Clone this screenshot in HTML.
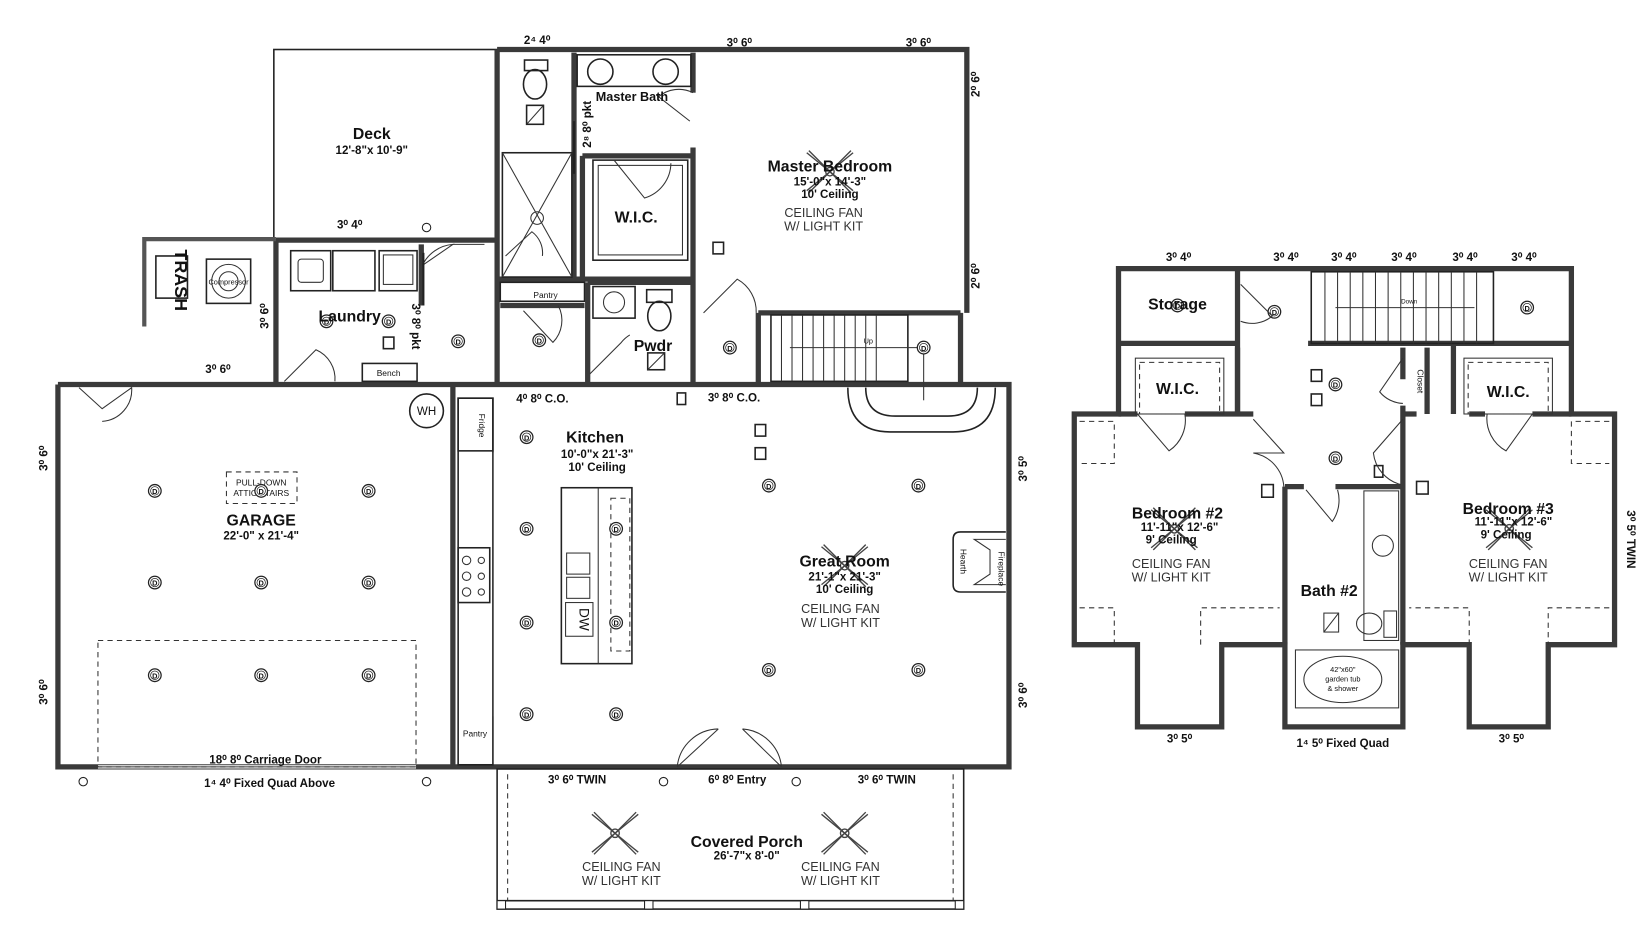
<!DOCTYPE html>
<html><head><meta charset="utf-8"><style>
html,body{margin:0;padding:0;background:#fff;}
svg{display:block}
text{font-family:"Liberation Sans",sans-serif;fill:#111}
.w{stroke:#3a3a3a;stroke-width:5;fill:none}
.t{stroke:#222;stroke-width:1.5;fill:none}
.h{stroke:#333;stroke-width:1;fill:none}
.d{stroke:#333;stroke-width:1;fill:none;stroke-dasharray:5 4}
.rn{font-weight:bold;font-size:15px;text-anchor:middle}
.dm{font-weight:bold;font-size:11px;text-anchor:middle}
.cf{font-size:12px;text-anchor:middle;fill:#333}
.lb{font-size:11px;text-anchor:middle}
.dl{font-size:8px;text-anchor:middle;font-weight:bold}
</style></head><body>
<svg width="1643" height="927" viewBox="0 0 1560 880" preserveAspectRatio="none" xmlns="http://www.w3.org/2000/svg">
<defs>
<g id="D"><circle r="6" fill="#fff" stroke="#222" stroke-width="1.2"/><circle r="4" fill="none" stroke="#222" stroke-width="0.7"/><text y="3" class="dl" style="font-size:7px">D</text></g>
<g id="fan"><g stroke="#444" stroke-width="1.3" fill="none"><line x1="-22" y1="-18" x2="22" y2="18"/><line x1="-22" y1="18" x2="22" y2="-18"/><line x1="-20" y1="-20" x2="20" y2="20"/><line x1="-20" y1="20" x2="20" y2="-20"/><circle r="4"/></g></g>
</defs>

<!-- ===== Main floor walls ===== -->
<!-- deck -->
<rect x="260" y="47" width="212" height="181" class="t" stroke-width="2"/>
<!-- top wall -->
<path class="w" d="M472 47 H918 V297"/>
<path class="w" d="M912 297 V365"/>
<!-- master bath left -->
<path class="w" d="M472 47 V365"/>
<!-- laundry -->
<path class="w" d="M262 228 H472"/>
<path class="w" d="M262 228 V365"/>
<path class="w" d="M400 232 V290"/>
<!-- garage -->
<path class="w" d="M55 365 H958 V728 H430"/>
<path class="w" d="M55 365 V728 H430 V365"/>
<line x1="93" y1="728" x2="395" y2="728" stroke="#fff" stroke-width="3"/>
<line x1="93" y1="728" x2="395" y2="728" class="h"/>
<rect x="93" y="608" width="302" height="120" class="d"/>
<!-- master bath interior -->
<path class="w" d="M545 50 V265"/>
<path class="w" d="M472 265 H658"/>
<path class="w" d="M658 50 V88"/>
<path class="w" d="M658 140 V365"/>
<path class="w" d="M553 148 H658"/>
<path class="w" d="M553 148 V265"/>
<rect x="548" y="52" width="108" height="30" class="t"/>
<rect x="477" y="145" width="66" height="118" class="t"/>
<line x1="477" y1="145" x2="543" y2="263" class="h"/><line x1="543" y1="145" x2="477" y2="263" class="h"/>
<circle cx="510" cy="207" r="6" class="h"/>
<rect x="563" y="152" width="90" height="95" class="t"/>
<rect x="568" y="157" width="80" height="85" class="h"/>
<ellipse cx="508" cy="80" rx="11" ry="14" class="t"/><rect x="498" y="57" width="22" height="10" class="t"/>
<rect x="500" y="100" width="16" height="18" class="t"/><line x1="500" y1="118" x2="516" y2="100" class="h"/>
<circle cx="570" cy="68" r="12" class="t"/><circle cx="632" cy="68" r="12" class="t"/>
<!-- pantry / pwdr -->
<rect x="475" y="268" width="80" height="18" class="t"/>
<path class="w" d="M475 290 H555 M558 268 V365 M558 268 H658"/>
<rect x="563" y="272" width="40" height="30" class="t"/><circle cx="583" cy="287" r="10" class="h"/>
<ellipse cx="626" cy="300" rx="11" ry="14" class="t"/><rect x="614" y="275" width="24" height="12" class="t"/>
<rect x="615" y="335" width="16" height="16" class="t"/><line x1="615" y1="351" x2="631" y2="335" class="h"/>
<path class="w" d="M720 297 H912 M720 297 V365"/>
<!-- stairs -->
<rect x="732" y="299" width="130" height="63" class="t"/>
<g class="h">
<line x1="742" y1="299" x2="742" y2="362"/><line x1="752" y1="299" x2="752" y2="362"/><line x1="762" y1="299" x2="762" y2="362"/><line x1="772" y1="299" x2="772" y2="362"/><line x1="782" y1="299" x2="782" y2="362"/><line x1="792" y1="299" x2="792" y2="362"/><line x1="802" y1="299" x2="802" y2="362"/><line x1="812" y1="299" x2="812" y2="362"/><line x1="822" y1="299" x2="822" y2="362"/><line x1="832" y1="299" x2="832" y2="362"/>
<line x1="750" y1="330" x2="877" y2="330"/><line x1="877" y1="330" x2="877" y2="380"/>
</g>
<text x="820" y="326" style="font-size:7px">Up</text>
<path d="M805 368 Q805 410 845 410 H905 Q945 410 945 368" class="t" stroke-width="3"/>
<path d="M822 368 Q822 395 850 395 H900 Q928 395 928 368" class="t"/>
<!-- doors -->
<g class="h">
<path d="M401 252 L430 232 A35 35 0 0 0 401 252"/>
<line x1="430" y1="232" x2="460" y2="232"/>
<path d="M270 362 L300 332 A30 30 0 0 1 318 362"/>
<path d="M75 368 L97 388 L125 368 A30 30 0 0 1 97 400"/>
<path d="M623 90 L655 115 M658 88 A30 30 0 0 0 625 92"/>
<path d="M668 297 L700 265 A35 35 0 0 1 718 297"/>
<path d="M560 355 L590 325 A30 30 0 0 1 598 318"/>
<path d="M497 295 L525 325 A30 30 0 0 0 530 290"/>
<path d="M643 728 L682 692 M742 728 L705 692 M682 692 A40 40 0 0 0 643 728 M705 692 A40 40 0 0 1 742 728"/>
<path d="M583 152 L612 188 A35 35 0 0 0 637 155"/>
<path d="M480 243 L505 220 A25 25 0 0 1 515 243"/>
</g>
<line x1="402" y1="240" x2="402" y2="290" stroke="#222" stroke-width="2"/>
<line x1="545" y1="115" x2="545" y2="165" stroke="#222" stroke-width="2"/>
<!-- laundry appliances -->
<rect x="276" y="238" width="38" height="38" class="t"/><rect x="283" y="246" width="24" height="22" class="h" rx="3"/>
<rect x="316" y="238" width="40" height="38" class="t"/>
<rect x="360" y="238" width="36" height="38" class="t"/><rect x="364" y="242" width="28" height="28" class="h"/>
<rect x="344" y="345" width="52" height="17" class="t"/>
<text x="369" y="357" class="lb" style="font-size:8px">Bench</text>
<!-- trash/compressor -->
<path d="M135 227 H262 M137 227 V310" stroke="#555" stroke-width="4" fill="none"/>
<rect x="148" y="243" width="30" height="40" class="t"/>
<rect x="196" y="246" width="42" height="42" class="t"/><circle cx="217" cy="267" r="16" class="h"/><circle cx="217" cy="267" r="9" class="h"/>
<text x="166" y="266" transform="rotate(90 166 266)" style="font-size:17px;font-weight:bold;text-anchor:middle">TRASH</text>
<text x="217" y="270" class="lb" style="font-size:7px">Compressor</text>
<!-- kitchen -->
<rect x="435" y="378" width="33" height="348" class="t"/>
<line x1="468" y1="430" x2="468" y2="680" class="h"/>
<rect x="435" y="378" width="33" height="50" class="t"/>
<text x="455" y="404" transform="rotate(90 455 404)" class="lb" style="font-size:8px">Fridge</text>
<rect x="435" y="520" width="30" height="52" class="t"/>
<g class="h"><circle cx="443" cy="532" r="4"/><circle cx="443" cy="547" r="4"/><circle cx="443" cy="562" r="4"/><circle cx="457" cy="532" r="3"/><circle cx="457" cy="547" r="3"/><circle cx="457" cy="562" r="3"/></g>
<text x="451" y="699" class="lb" style="font-size:8px">Pantry</text>
<rect x="533" y="463" width="67" height="167" class="t"/>
<line x1="568" y1="463" x2="568" y2="630" class="h"/>
<rect x="580" y="473" width="18" height="145" class="d"/>
<rect x="538" y="525" width="22" height="20" class="h"/><rect x="538" y="548" width="22" height="20" class="h"/>
<rect x="537" y="572" width="26" height="32" class="h"/>
<text x="550" y="588" transform="rotate(90 550 588)" style="font-size:13px;text-anchor:middle">DW</text>
<!-- fireplace -->
<path d="M955 505 H912 Q905 505 905 512 V555 Q905 562 912 562 H955" class="t"/>
<path d="M955 512 H925 L940 522 V545 L925 555 H955" class="h"/>
<text x="912" y="533" transform="rotate(90 912 533)" class="lb" style="font-size:8px">Hearth</text>
<text x="948" y="540" transform="rotate(90 948 540)" class="lb" style="font-size:8px">Fireplace</text>
<circle cx="405" cy="390" r="16" class="t"/><text x="405" y="394" class="lb" style="font-size:11px">WH</text>
<rect x="215" y="448" width="67" height="30" class="d"/>
<text x="248" y="461" class="lb" style="font-size:8px">PULL-DOWN</text><text x="248" y="471" class="lb" style="font-size:8px">ATTIC STAIRS</text>
<!-- porch -->
<rect x="472" y="730" width="443" height="133" class="t" stroke-width="2"/>
<line x1="482" y1="735" x2="482" y2="855" class="d"/><line x1="905" y1="735" x2="905" y2="855" class="d"/>
<line x1="472" y1="855" x2="915" y2="855" class="t"/>
<g fill="#fff" stroke="#222"><rect x="472" y="855" width="8" height="8"/><rect x="612" y="855" width="8" height="8"/><rect x="760" y="855" width="8" height="8"/><rect x="907" y="855" width="8" height="8"/></g>
<g fill="#fff" stroke="#222"><circle cx="79" cy="742" r="4"/><circle cx="405" cy="742" r="4"/><circle cx="630" cy="742" r="4"/><circle cx="756" cy="742" r="4"/><circle cx="405" cy="216" r="4"/></g>
<!-- fans -->
<use href="#fan" x="584" y="791"/><use href="#fan" x="802" y="791"/>
<use href="#fan" x="788" y="163"/><use href="#fan" x="802" y="537"/>
<use href="#fan" x="1115" y="502"/><use href="#fan" x="1433" y="502"/>
<!-- D lights -->
<g>
<use href="#D" x="147" y="466"/><use href="#D" x="248" y="466"/><use href="#D" x="350" y="466"/>
<use href="#D" x="147" y="553"/><use href="#D" x="248" y="553"/><use href="#D" x="350" y="553"/>
<use href="#D" x="147" y="641"/><use href="#D" x="248" y="641"/><use href="#D" x="350" y="641"/>
<use href="#D" x="500" y="415"/><use href="#D" x="500" y="502"/><use href="#D" x="585" y="502"/><use href="#D" x="500" y="591"/><use href="#D" x="585" y="591"/><use href="#D" x="500" y="678"/><use href="#D" x="585" y="678"/>
<use href="#D" x="730" y="461"/><use href="#D" x="872" y="461"/><use href="#D" x="730" y="636"/><use href="#D" x="872" y="636"/>
<use href="#D" x="435" y="324"/><use href="#D" x="693" y="330"/><use href="#D" x="877" y="330"/><use href="#D" x="310" y="305"/><use href="#D" x="369" y="305"/><use href="#D" x="512" y="323"/>
<use href="#D" x="1118" y="290"/><use href="#D" x="1210" y="296"/><use href="#D" x="1450" y="292"/><use href="#D" x="1268" y="365"/><use href="#D" x="1268" y="435"/>
</g>
<g class="t" fill="#fff"><rect x="677" y="230" width="10" height="11"/><rect x="364" y="320" width="10" height="11"/><rect x="717" y="403" width="10" height="11"/><rect x="717" y="425" width="10" height="11"/><rect x="643" y="373" width="8" height="11"/><rect x="1245" y="351" width="10" height="11"/><rect x="1245" y="374" width="10" height="11"/><rect x="1198" y="460" width="11" height="12"/><rect x="1345" y="457" width="11" height="12"/><rect x="1305" y="442" width="8" height="11"/></g>

<!-- ===== Upper floor ===== -->
<path class="w" d="M1062 255 H1492 V393 H1533 V612 H1470 V690 H1395 V612 H1332 V690 H1220 V612 H1160 V690 H1080 V612 H1020 V393 H1062 Z"/>
<path class="w" d="M1062 326 H1175 M1175 255 V393 M1242 326 H1492"/>
<path class="w" d="M1062 393 H1080 M1125 393 H1190 M1175 330 V393"/>
<path class="w" d="M1380 326 V393 M1332 393 H1345 M1395 393 H1410 M1455 393 H1492"/>
<path class="w" d="M1220 462 V612 M1332 393 V612"/>
<path class="w" d="M1220 462 H1238 M1268 462 H1332"/>
<path class="w" d="M1332 330 V360 M1332 385 V393 M1355 330 V393"/>
<rect x="1245" y="258" width="173" height="68" class="t"/>
<g class="h"><line x1="1258" y1="258" x2="1258" y2="326"/><line x1="1270" y1="258" x2="1270" y2="326"/><line x1="1282" y1="258" x2="1282" y2="326"/><line x1="1294" y1="258" x2="1294" y2="326"/><line x1="1306" y1="258" x2="1306" y2="326"/><line x1="1318" y1="258" x2="1318" y2="326"/><line x1="1330" y1="258" x2="1330" y2="326"/><line x1="1342" y1="258" x2="1342" y2="326"/><line x1="1354" y1="258" x2="1354" y2="326"/><line x1="1366" y1="258" x2="1366" y2="326"/><line x1="1378" y1="258" x2="1378" y2="326"/><line x1="1390" y1="258" x2="1390" y2="326"/><line x1="1402" y1="258" x2="1402" y2="326"/>
<line x1="1268" y1="292" x2="1400" y2="292"/></g>
<text x="1338" y="288" style="font-size:6px;text-anchor:middle">Down</text>
<rect x="1078" y="340" width="84" height="53" class="h"/><rect x="1082" y="344" width="76" height="49" class="d"/>
<rect x="1390" y="340" width="84" height="53" class="h"/><rect x="1394" y="344" width="76" height="49" class="d"/>
<rect x="1295" y="466" width="33" height="142" class="h"/><circle cx="1313" cy="518" r="10" class="h"/>
<ellipse cx="1300" cy="592" rx="12" ry="10" class="h"/><rect x="1314" y="580" width="12" height="25" class="h"/>
<rect x="1257" y="582" width="14" height="18" class="h"/><line x1="1257" y1="600" x2="1271" y2="582" class="h"/>
<rect x="1230" y="617" width="98" height="55" class="h"/><ellipse cx="1275" cy="645" rx="37" ry="22" class="h"/>
<text x="1275" y="638" style="font-size:7px;text-anchor:middle">42"x60"</text><text x="1275" y="647" style="font-size:7px;text-anchor:middle">garden tub</text><text x="1275" y="656" style="font-size:7px;text-anchor:middle">&amp; shower</text>
<g class="d"><path d="M1025 400 H1058 V440 H1025"/><path d="M1528 400 H1492 V440 H1528"/><path d="M1025 577 H1058 V612 M1140 612 V577 H1215"/><path d="M1528 577 H1470 V612 M1395 612 V577 H1338"/></g>
<g class="h">
<path d="M1178 270 L1208 300 A30 30 0 0 1 1178 305"/>
<path d="M1080 393 L1110 428 A35 35 0 0 0 1125 393"/>
<path d="M1190 398 L1219 430 L1190 430 A35 35 0 0 1 1219 462"/>
<path d="M1240 465 L1265 495 A35 35 0 0 0 1270 465"/>
<path d="M1332 398 L1304 430 A35 35 0 0 0 1330 460"/>
<path d="M1332 340 L1310 372 A30 30 0 0 0 1332 383"/>
<path d="M1455 393 L1430 428 A35 35 0 0 1 1412 393"/>
</g>
<text x="1346" y="362" transform="rotate(90 1346 362)" style="font-size:8px;text-anchor:middle">Closet</text>

<!-- ===== Labels ===== -->
<text x="353" y="132" class="rn">Deck</text><text x="353" y="146" class="dm">12'-8"x 10'-9"</text>
<text x="600" y="96" class="dm" style="font-size:12px">Master Bath</text>
<text x="604" y="211" class="rn">W.I.C.</text>
<text x="788" y="163" class="rn">Master Bedroom</text><text x="788" y="176" class="dm">15'-0"x 14'-3"</text><text x="788" y="188" class="dm">10' Ceiling</text>
<text x="782" y="206" class="cf">CEILING FAN</text><text x="782" y="219" class="cf">W/ LIGHT KIT</text>
<text x="332" y="305" class="rn">Laundry</text>
<text x="620" y="333" class="rn">Pwdr</text>
<text x="518" y="283" class="lb" style="font-size:8px">Pantry</text>
<text x="565" y="420" class="rn">Kitchen</text><text x="567" y="435" class="dm">10'-0"x 21'-3"</text><text x="567" y="447" class="dm">10' Ceiling</text>
<text x="248" y="499" class="rn">GARAGE</text><text x="248" y="512" class="dm">22'-0" x 21'-4"</text>
<text x="802" y="538" class="rn">Great Room</text><text x="802" y="551" class="dm">21'-1"x 21'-3"</text><text x="802" y="563" class="dm">10' Ceiling</text>
<text x="798" y="582" class="cf">CEILING FAN</text><text x="798" y="595" class="cf">W/ LIGHT KIT</text>
<text x="709" y="804" class="rn">Covered Porch</text><text x="709" y="816" class="dm">26'-7"x 8'-0"</text>
<text x="590" y="827" class="cf">CEILING FAN</text><text x="590" y="840" class="cf">W/ LIGHT KIT</text>
<text x="798" y="827" class="cf">CEILING FAN</text><text x="798" y="840" class="cf">W/ LIGHT KIT</text>
<text x="252" y="725" class="dm">18⁰ 8⁰ Carriage Door</text>
<text x="256" y="747" class="dm">1⁴ 4⁰   Fixed Quad Above</text>
<text x="548" y="744" class="dm">3⁰ 6⁰ TWIN</text><text x="700" y="744" class="dm">6⁰ 8⁰ Entry</text><text x="842" y="744" class="dm">3⁰ 6⁰ TWIN</text>
<text x="515" y="382" class="dm">4⁰ 8⁰ C.O.</text><text x="697" y="381" class="dm">3⁰ 8⁰ C.O.</text>
<text x="510" y="42" class="dm">2⁴ 4⁰</text><text x="702" y="44" class="dm">3⁰ 6⁰</text><text x="872" y="44" class="dm">3⁰ 6⁰</text>
<text x="332" y="217" class="dm">3⁰ 4⁰</text><text x="207" y="354" class="dm">3⁰ 6⁰</text>
<text x="930" y="80" transform="rotate(-90 930 80)" class="dm">2⁰ 6⁰</text>
<text x="930" y="262" transform="rotate(-90 930 262)" class="dm">2⁰ 6⁰</text>
<text x="45" y="435" transform="rotate(-90 45 435)" class="dm">3⁰ 6⁰</text>
<text x="45" y="657" transform="rotate(-90 45 657)" class="dm">3⁰ 6⁰</text>
<text x="255" y="300" transform="rotate(-90 255 300)" class="dm">3⁰ 6⁰</text>
<text x="975" y="445" transform="rotate(-90 975 445)" class="dm">3⁰ 5⁰</text>
<text x="975" y="660" transform="rotate(-90 975 660)" class="dm">3⁰ 6⁰</text>
<text x="391" y="310" transform="rotate(90 391 310)" class="dm">3⁰ 8⁰ pkt</text>
<text x="561" y="118" transform="rotate(-90 561 118)" class="dm">2⁸ 8⁰ pkt</text>
<!-- upper labels -->
<text x="1118" y="294" class="rn">Storage</text>
<text x="1118" y="374" class="rn">W.I.C.</text><text x="1432" y="377" class="rn">W.I.C.</text>
<text x="1118" y="492" class="rn">Bedroom #2</text><text x="1120" y="504" class="dm">11'-11"x 12'-6"</text><text x="1112" y="516" class="dm">9' Ceiling</text>
<text x="1112" y="539" class="cf">CEILING FAN</text><text x="1112" y="552" class="cf">W/ LIGHT KIT</text>
<text x="1432" y="488" class="rn">Bedroom #3</text><text x="1437" y="499" class="dm">11'-11"x 12'-6"</text><text x="1430" y="511" class="dm">9' Ceiling</text>
<text x="1432" y="539" class="cf">CEILING FAN</text><text x="1432" y="552" class="cf">W/ LIGHT KIT</text>
<text x="1262" y="566" class="rn">Bath #2</text>
<text x="1119" y="248" class="dm">3⁰ 4⁰</text><text x="1221" y="248" class="dm">3⁰ 4⁰</text><text x="1276" y="248" class="dm">3⁰ 4⁰</text><text x="1333" y="248" class="dm">3⁰ 4⁰</text><text x="1391" y="248" class="dm">3⁰ 4⁰</text><text x="1447" y="248" class="dm">3⁰ 4⁰</text>
<text x="1120" y="705" class="dm">3⁰ 5⁰</text><text x="1275" y="709" class="dm">1⁴ 5⁰   Fixed Quad</text><text x="1435" y="705" class="dm">3⁰ 5⁰</text>
<text x="1545" y="512" transform="rotate(90 1545 512)" class="dm">3⁰ 5⁰ TWIN</text>
</svg>
</body></html>
